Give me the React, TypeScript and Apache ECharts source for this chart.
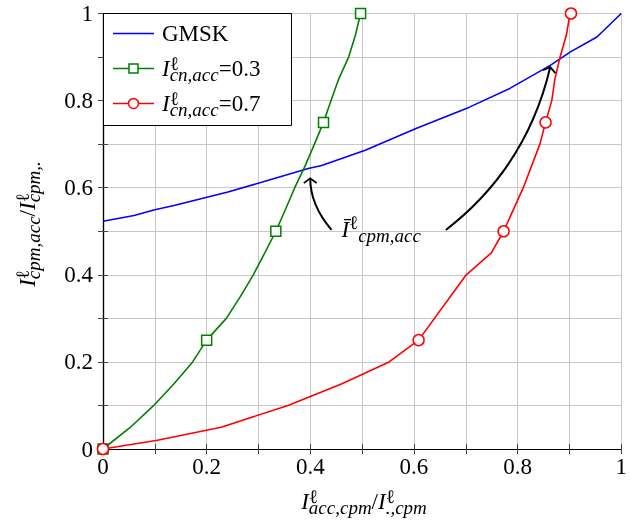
import React, { useEffect, useRef } from 'react';
import * as echarts from 'echarts';

// ---------- data ----------
const tickLabels = ['0', '0.2', '0.4', '0.6', '0.8', '1'];

const gmskX = [0, 0.06, 0.098, 0.137, 0.241, 0.319, 0.396, 0.422, 0.506, 0.604, 0.707, 0.785, 0.863, 0.902, 0.953, 1];
const gmskY = [0.523, 0.536, 0.549, 0.559, 0.59, 0.617, 0.644, 0.651, 0.686, 0.736, 0.785, 0.828, 0.881, 0.912, 0.946, 1];

const g03X = [0, 0.053, 0.098, 0.137, 0.173, 0.2, 0.238, 0.265, 0.29, 0.312, 0.3335, 0.352, 0.37, 0.39, 0.408, 0.4255, 0.44, 0.455, 0.474, 0.487, 0.497];
const g03Y = [0, 0.05, 0.1, 0.15, 0.2, 0.25, 0.3, 0.35, 0.4, 0.45, 0.5, 0.55, 0.6, 0.65, 0.7, 0.75, 0.8, 0.85, 0.9, 0.95, 1];
const g03MarkX = [0, 0.2, 0.3335, 0.4255, 0.497];
const g03MarkY = [0, 0.25, 0.5, 0.75, 1];

const g07X = [0, 0.105, 0.228, 0.357, 0.461, 0.552, 0.609, 0.701, 0.749, 0.773, 0.811, 0.843, 0.854, 0.866, 0.872, 0.882, 0.894, 0.899, 0.903];
const g07Y = [0, 0.02, 0.05, 0.1, 0.15, 0.2, 0.25, 0.4, 0.45, 0.5, 0.6, 0.7, 0.75, 0.8, 0.85, 0.9, 0.95, 0.985, 1];
const g07MarkX = [0, 0.609, 0.773, 0.854, 0.903];
const g07MarkY = [0, 0.25, 0.5, 0.75, 1];

// annotation arrows: tail, control, tip (data coords)
const arrowTail = [[0.441, 0.503], [0.6615, 0.503]];
const arrowCtrl = [[0.4, 0.56], [0.8176, 0.6466]];
const arrowTip = [[0.3998, 0.6216], [0.863, 0.877]];
const annLabelPos = [0.46, 0.485];

const legendNames = ['GMSK', 'I^ℓ_{cn,acc}=0.3', 'I^ℓ_{cn,acc}=0.7'];
const legendColors = ['#0000ff', '#008000', '#ff0000'];

// ---------- helpers ----------
const FONT = '"Liberation Serif", "DejaVu Serif", serif';
const MAIN = 23;
const SCRIPT = 19;
let mctx: CanvasRenderingContext2D | null = null;
function measure(text: string, size: number, italic: boolean) {
  if (!mctx) mctx = document.createElement('canvas').getContext('2d');
  mctx!.font = `${italic ? 'italic ' : ''}${size}px ${FONT}`;
  return mctx!.measureText(text).width;
}
function txt(text: string, x: number, baseline: number, size: number, italic: boolean) {
  return {
    type: 'text',
    x,
    y: baseline - 0.34 * size,
    silent: true,
    z: 100,
    style: {
      text,
      fontSize: size,
      fontFamily: FONT,
      fontStyle: italic ? 'italic' : 'normal',
      fill: '#000',
      align: 'left',
      verticalAlign: 'middle',
    },
  };
}
// superscript stacked over subscript, as one two-line text
function stacked(sup: string, sub: string, x: number, supDy: number, subDy: number, size: number) {
  const H = subDy - supDy;
  const y0 = supDy - H / 2 - 0.34 * size;
  return {
    type: 'text',
    x,
    y: y0,
    silent: true,
    z: 100,
    style: {
      text: `{p|${sup}}\n{b|${sub}}`,
      fontSize: size,
      fontFamily: FONT,
      fill: '#000',
      align: 'left',
      verticalAlign: 'top',
      lineHeight: H,
      rich: {
        p: { fontSize: size, fontFamily: FONT, fontStyle: 'normal', lineHeight: H, fill: '#000', verticalAlign: 'middle' },
        b: { fontSize: size, fontFamily: FONT, fontStyle: 'italic', lineHeight: H, fill: '#000', verticalAlign: 'middle' },
      },
    },
  };
}
type Seg = { main?: string; mainItalic?: boolean; sup?: string; sub?: string };
function layoutMath(segs: Seg[], size: number, scriptSize: number, supDy: number, subDy: number) {
  const els: any[] = [];
  let x = 0;
  for (const s of segs) {
    if (s.main) {
      els.push(txt(s.main, x, 0, size, !!s.mainItalic));
      x += measure(s.main, size, !!s.mainItalic);
    }
    if (s.sup && s.sub) {
      els.push(stacked(s.sup, s.sub, x, supDy, subDy, scriptSize));
      x += Math.max(measure(s.sup, scriptSize, false), measure(s.sub, scriptSize, true));
    } else if (s.sup) {
      els.push(txt(s.sup, x, supDy, scriptSize, false));
      x += measure(s.sup, scriptSize, false);
    } else if (s.sub) {
      els.push(txt(s.sub, x, subDy, scriptSize, true));
      x += measure(s.sub, scriptSize, true);
    }
  }
  return { els, width: x };
}

const zip = (xs: number[], ys: number[]) => xs.map((x, i) => [x, ys[i]]);

export default function App() {
  const ref = useRef<HTMLDivElement>(null);
  useEffect(() => {
    if (!ref.current) return;
    const chart = echarts.init(ref.current, undefined, { renderer: 'svg' });

    const gridLeft = 103, gridTop = 13.5, gridRight = 5, gridBottom = 82;
    const plotCx = (gridLeft + (630 - gridRight)) / 2;

    // x title
    const xt = layoutMath(
      [
        { main: 'I', mainItalic: true, sup: 'ℓ', sub: 'acc,cpm' },
        { main: '/' },
        { main: 'I', mainItalic: true, sup: 'ℓ', sub: '.,cpm' },
      ],
      MAIN, SCRIPT, -6.5, 4.5
    );
    // y title
    const yt = layoutMath(
      [
        { main: 'I', mainItalic: true, sup: 'ℓ', sub: 'cpm,acc' },
        { main: '/' },
        { main: 'I', mainItalic: true, sup: 'ℓ', sub: 'cpm,.' },
      ],
      MAIN, SCRIPT, -6.5, 4.5
    );

    // legend
    const legendEls: any[] = [
      { type: 'rect', z: 100, shape: { x: 103.5, y: 13.5, width: 188, height: 112 }, style: { fill: '#fff', stroke: '#000', lineWidth: 1 } },
    ];
    const rowY = [33.5, 68.5, 103.5];
    const rowBase = [41, 76.7, 111.7];
    legendNames.forEach((name, i) => {
      const y = rowY[i];
      legendEls.push({ type: 'line', z: 101, shape: { x1: 113, y1: y, x2: 154, y2: y }, style: { stroke: legendColors[i], lineWidth: 1.6 } });
      if (i === 1) {
        legendEls.push({ type: 'rect', z: 102, shape: { x: 129, y: y - 4.5, width: 9, height: 9 }, style: { fill: '#fff', stroke: legendColors[i], lineWidth: 1.5 } });
      } else if (i === 2) {
        legendEls.push({ type: 'circle', z: 102, shape: { cx: 133.5, cy: y, r: 5 }, style: { fill: '#fff', stroke: legendColors[i], lineWidth: 1.5 } });
      }
      let segs: Seg[];
      if (i === 0) segs = [{ main: name }];
      else {
        const m = name.match(/=(.*)$/);
        segs = [{ main: 'I', mainItalic: true, sup: 'ℓ', sub: 'cn,acc' }, { main: '=' + (m ? m[1] : '') }];
      }
      const lm = layoutMath(segs, MAIN, SCRIPT, -6.7, 4.5);
      legendEls.push({ type: 'group', z: 103, x: 162, y: rowBase[i], children: lm.els });
    });

    const markerSeries = (name: string, xs: number[], ys: number[], color: string, symbol: string, size: number) => ({
      name,
      type: 'scatter',
      data: zip(xs, ys),
      symbol,
      symbolSize: size,
      clip: false,
      silent: true,
      itemStyle: { color: '#fff', borderColor: color, borderWidth: 1.5, opacity: 1 },
      emphasis: { disabled: true },
      z: 5,
    });
    const lineSeries = (name: string, xs: number[], ys: number[], color: string) => ({
      name,
      type: 'line',
      data: zip(xs, ys),
      showSymbol: false,
      symbol: 'none',
      lineStyle: { color, width: 1.6 },
      itemStyle: { color },
      silent: true,
      z: 3,
    });

    const arrowData = arrowTail.map((t, i) => [t[0], t[1], arrowCtrl[i][0], arrowCtrl[i][1], arrowTip[i][0], arrowTip[i][1]]);

    const axisCommon = {
      min: 0,
      max: 1,
      interval: 0.1,
      axisLine: { show: true, lineStyle: { color: '#000', width: 1.2 } },
      axisTick: { show: true, inside: true, length: 5, lineStyle: { color: '#444', width: 1 } },
    };
    const labelFmt = (v: number) => {
      const s = String(Math.round(v * 10) / 10);
      return tickLabels.includes(s) ? s : '';
    };

    chart.setOption({
      animation: false,
      grid: { left: gridLeft, top: gridTop, right: gridRight, bottom: gridBottom, containLabel: false },
      xAxis: [
        {
          type: 'value',
          ...axisCommon,
          position: 'bottom',
          axisLabel: { formatter: labelFmt, fontFamily: FONT, fontSize: MAIN, color: '#000', margin: 6 },
          splitLine: { show: true, lineStyle: { color: '#c8c8c8', width: 1 } },
        },
        {
          type: 'value',
          ...axisCommon,
          position: 'top',
          axisLabel: { show: false },
          splitLine: { show: false },
        },
      ],
      yAxis: [
        {
          type: 'value',
          ...axisCommon,
          position: 'left',
          axisLabel: { formatter: labelFmt, fontFamily: FONT, fontSize: MAIN, color: '#000', margin: 10 },
          splitLine: { show: true, lineStyle: { color: '#c8c8c8', width: 1 } },
        },
        {
          type: 'value',
          ...axisCommon,
          position: 'right',
          axisLabel: { show: false },
          splitLine: { show: false },
        },
      ],
      series: [
        lineSeries('GMSK', gmskX, gmskY, legendColors[0]),
        lineSeries('cn03', g03X, g03Y, legendColors[1]),
        lineSeries('cn07', g07X, g07Y, legendColors[2]),
        markerSeries('cn03m', g03MarkX, g03MarkY, legendColors[1], 'rect', 10),
        markerSeries('cn07m', g07MarkX, g07MarkY, legendColors[2], 'circle', 11),
        {
          type: 'custom',
          name: 'arrows',
          silent: true,
          z: 6,
          data: arrowData,
          renderItem: (_p: any, api: any) => {
            const p0 = api.coord([api.value(0), api.value(1)]);
            const c = api.coord([api.value(2), api.value(3)]);
            const p1 = api.coord([api.value(4), api.value(5)]);
            const dx = p1[0] - c[0], dy = p1[1] - c[1];
            const L = Math.hypot(dx, dy) || 1;
            const ux = dx / L, uy = dy / L;
            const len = 8, ang = 0.93;
            const back = (a: number) => [
              p1[0] - len * (ux * Math.cos(a) - uy * Math.sin(a)),
              p1[1] - len * (uy * Math.cos(a) + ux * Math.sin(a)),
            ];
            return {
              type: 'group',
              children: [
                { type: 'bezierCurve', shape: { x1: p0[0], y1: p0[1], x2: p1[0], y2: p1[1], cpx1: c[0], cpy1: c[1] }, style: { stroke: '#000', lineWidth: 2, fill: 'none' } },
                { type: 'polyline', shape: { points: [back(ang), p1, back(-ang)] }, style: { stroke: '#000', lineWidth: 1.8, fill: 'none' } },
              ],
            };
          },
        },
        {
          type: 'custom',
          name: 'annLabel',
          silent: true,
          z: 6,
          data: [annLabelPos],
          renderItem: (_p: any, api: any) => {
            const p = api.coord([api.value(0), api.value(1)]);
            const lm = layoutMath([{ main: 'Ī', mainItalic: true, sup: 'ℓ' }, { sub: 'cpm,acc' }], MAIN, SCRIPT, -9, 3.7);
            return { type: 'group', x: p[0], y: p[1], children: lm.els };
          },
        },
      ],
      graphic: {
        elements: [
          { type: 'group', z: 100, children: legendEls },
          { type: 'group', x: plotCx - xt.width / 2, y: 509, children: xt.els },
          { type: 'group', x: 35, y: 224 + yt.width / 2, rotation: Math.PI / 2, children: yt.els },
        ],
      },
    });

    return () => chart.dispose();
  }, []);

  return <div ref={ref} style={{ position: 'fixed', left: 0, top: 0, width: 630, height: 531 }} />;
}
